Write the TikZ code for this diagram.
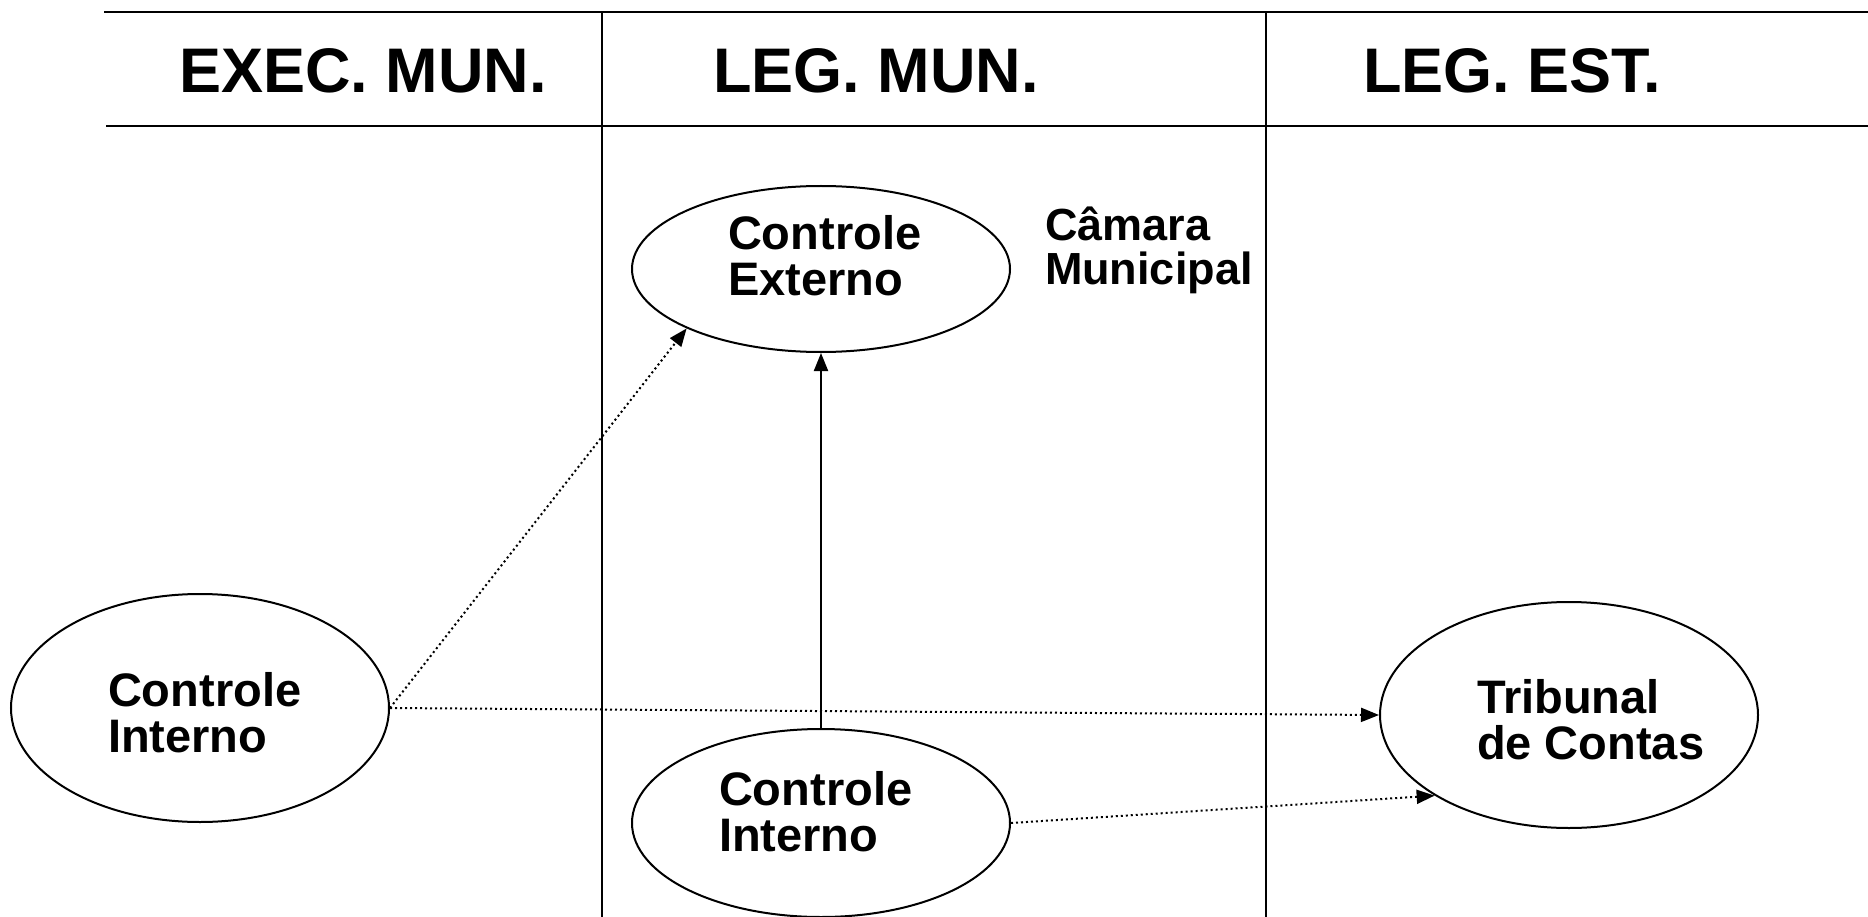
\documentclass[tikz,border=0pt]{standalone}
\usepackage{fontspec}
\setmainfont{Liberation Sans}
\usepackage{tikz}
\usetikzlibrary{arrows.meta,shapes.geometric}

\begin{document}
\begin{tikzpicture}[x=1pt,y=-1pt,>={Triangle[length=18pt,width=14pt]},line width=2pt,
  ctrl node/.style={ellipse,draw,minimum width=378pt,inner sep=0pt},
  text node/.style={anchor=base west,align=left,inner sep=0pt,font=\fontsize{47}{46}\selectfont\bfseries},
  head node/.style={anchor=base,inner sep=0pt,font=\fontsize{63}{63}\selectfont\bfseries},
  dotted arrow/.style={->,dash pattern=on 2pt off 3pt}]
  \useasboundingbox (0,0) rectangle (1868,917);

  \draw[line width=2.4pt] (104,12) -- (1868,12);
  \draw (106,126) -- (1868,126);
  \draw (602,12) -- (602,917);
  \draw (1266,12) -- (1266,917);

  \node[head node] (h1) at (363,93) {EXEC. MUN.};
  \node[head node] (h2) at (876,93) {LEG. MUN.};
  \node[head node] (h3) at (1512,93) {LEG. EST.};

  \node[ctrl node,minimum height=166pt] (ce) at (821,269) {};
  \node[ctrl node,minimum height=228pt] (ciexec) at (200,708) {};
  \node[ctrl node,minimum height=188pt] (cileg) at (821,823) {};
  \node[ctrl node,minimum height=226pt] (tc) at (1569,715) {};

  \node[text node] (ce-t) at (727,295) {Controle\\Externo};
  \node[text node] (ciexec-t) at (107,752) {Controle\\Interno};
  \node[text node] (cileg-t) at (718,851) {Controle\\Interno};
  \node[text node] (tc-t) at (1476,759) {Tribunal\\de Contas};
  \node[text node,font=\fontsize{45}{44}\selectfont\bfseries] (cm) at (1044,285) {Câmara\\Municipal};

  \draw[->] (cileg.north) -- (ce.south);
  \draw[dotted arrow] (ciexec.east) -- (ce.south west);
  \draw[dotted arrow] (ciexec.east) -- (tc.west);
  \draw[dotted arrow] (cileg.east) -- (tc.south west);
\end{tikzpicture}
\end{document}
